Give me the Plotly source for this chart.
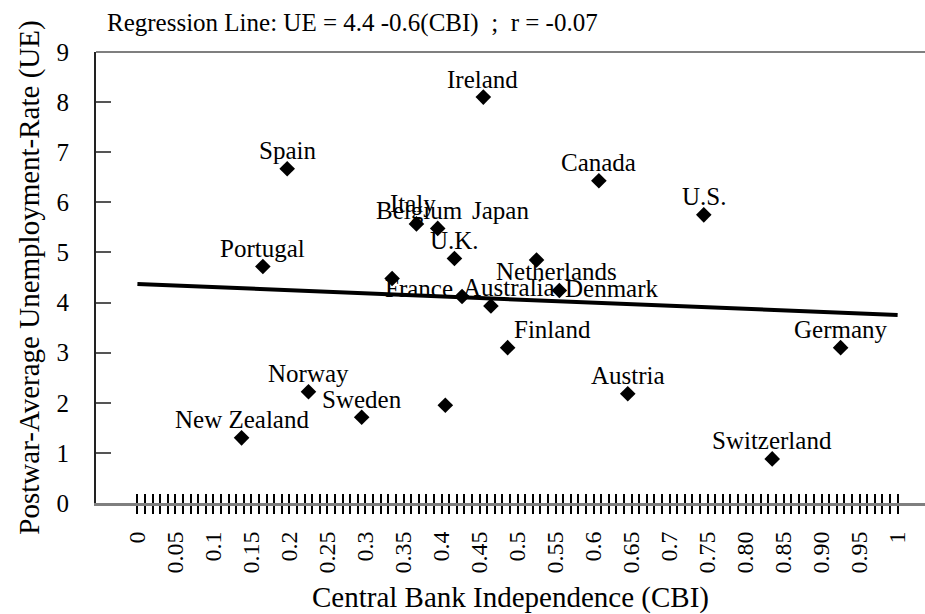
import plotly.graph_objects as go

# Central bank independence vs. postwar average unemployment
countries = ["Ireland", "Spain", "Canada", "U.S.", "Italy", "Belgium", "Portugal",
             "U.K.", "Japan", "France", "Netherlands", "Australia", "Denmark",
             "Finland", "Germany", "Austria", "Norway", "Sweden", "",
             "New Zealand", "Switzerland"]
cbi = [0.455, 0.197, 0.607, 0.745, 0.367, 0.395, 0.165,
       0.417, 0.525, 0.335, 0.555, 0.427, 0.465,
       0.487, 0.925, 0.645, 0.225, 0.295, 0.405,
       0.137, 0.835]
ue = [8.10, 6.67, 6.43, 5.75, 5.57, 5.48, 4.72,
      4.88, 4.85, 4.48, 4.24, 4.12, 3.93,
      3.10, 3.10, 2.18, 2.22, 1.71, 1.95,
      1.30, 0.88]

# Regression line UE = a + b*CBI, drawn across the CBI range
reg_cbi = [0.0, 1.0]
reg_ue = [4.37, 3.75]
title_text = "Regression Line: UE = 4.4 -0.6(CBI)\u00a0\u00a0;\u00a0\u00a0r = -0.07"

x_ticks = [round(i * 0.01, 2) for i in range(101)]
x_major = ["0", "0.05", "0.1", "0.15", "0.2", "0.25", "0.3", "0.35", "0.4", "0.45",
           "0.5", "0.55", "0.6", "0.65", "0.7", "0.75", "0.80", "0.85", "0.90",
           "0.95", "1"]
x_ticktext = [x_major[i // 5] if i % 5 == 0 else "" for i in range(101)]
y_ticks = list(range(10))

# Label offsets (pixels) from each marker; default sits just above the point
label_shift = {
    "Ireland": (-1, 18), "Italy": (-3, 20), "Belgium": (-18, 18),
    "Japan": (-36, 49), "France": (27, -10), "Netherlands": (-3, 19),
    "Australia": (47, 9), "Denmark": (121, 18), "Finland": (45, 18),
}

FONT = "Liberation Serif, Times New Roman, serif"

fig = go.Figure()
fig.add_trace(go.Scatter(
    x=reg_cbi, y=reg_ue, mode="lines", xaxis="x2",
    line=dict(color="black", width=4), hoverinfo="skip", showlegend=False))
fig.add_trace(go.Scatter(
    x=cbi, y=ue, mode="markers", text=countries,
    marker=dict(symbol="diamond", size=12, color="black"),
    showlegend=False))

for name, xv, yv in zip(countries, cbi, ue):
    if not name:
        continue
    dx, dy = label_shift.get(name, (0, 18))
    fig.add_annotation(x=xv, y=yv, text=name, showarrow=False,
                       xshift=dx, yshift=dy,
                       font=dict(family=FONT, size=25, color="black"))

fig.add_annotation(xref="paper", yref="paper",
                   x=(105 - 96) / 829, y=1 + (52 - 23) / 451,
                   xanchor="left", yanchor="middle", showarrow=False,
                   text=title_text,
                   font=dict(family=FONT, size=25, color="black"))

xr = [-0.0545, 1.036]
fig.update_layout(
    width=925, height=614,
    margin=dict(l=96, r=0, t=52, b=111),
    paper_bgcolor="white", plot_bgcolor="white",
    font=dict(family=FONT, color="black"),
    xaxis=dict(
        range=xr, tickmode="array", tickvals=x_ticks, ticktext=x_ticktext,
        tickangle=-90, ticks="outside", ticklen=8, tickwidth=1.5, tickcolor="black",
        tickfont=dict(family=FONT, size=24), ticklabelstandoff=8,
        showgrid=False, zeroline=False,
        showline=True, linecolor="#7f7f7f", linewidth=3, mirror=False,
        title=dict(text="Central Bank Independence (CBI)",
                   font=dict(family=FONT, size=29), standoff=16),
    ),
    xaxis2=dict(
        range=xr, overlaying="x", anchor="y", side="bottom",
        tickmode="array", tickvals=x_ticks, ticktext=[""] * len(x_ticks),
        ticks="inside", ticklen=9, tickwidth=1.5, tickcolor="black",
        showgrid=False, zeroline=False, showline=False,
    ),
    yaxis=dict(
        range=[0, 9], tickmode="array", tickvals=y_ticks,
        ticks="inside", ticklen=15, tickwidth=1.5, tickcolor="#555555",
        tickfont=dict(family=FONT, size=25), ticklabelstandoff=20,
        showgrid=False, zeroline=False,
        showline=True, linecolor="#222222", linewidth=2,
        title=dict(text="Postwar-Average Unemployment-Rate (UE)",
                   font=dict(family=FONT, size=29), standoff=8),
    ),
    shapes=[dict(type="line", xref="x domain", yref="y domain",
                 x0=0, x1=1, y0=1, y1=1,
                 line=dict(color="#7f7f7f", width=2))],
)

fig.write_html("out.html")
